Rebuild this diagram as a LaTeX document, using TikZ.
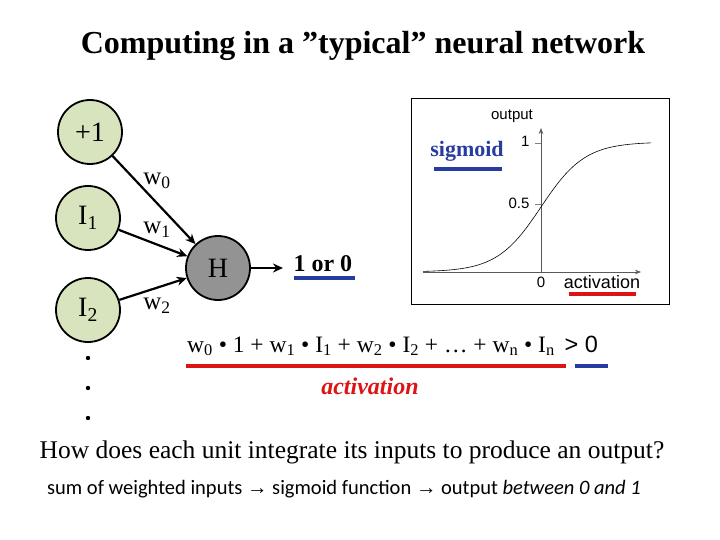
\documentclass[tikz,border=0pt]{standalone}
\usepackage{fontspec}
\setmainfont{Liberation Serif}
\newfontfamily\calfnt{Carlito}
\newfontfamily\ars{Liberation Sans}
\usetikzlibrary{arrows.meta}
\definecolor{ngreen}{RGB}{215,228,189}
\definecolor{nblue}{RGB}{40,60,160}
\definecolor{nred}{RGB}{220,20,20}
\begin{document}
\begin{tikzpicture}[x=1pt,y=-1pt,
  inp/.style={circle,draw,line width=1.8pt,fill=ngreen,minimum size=64pt,inner sep=0pt,font=\fontsize{28}{30}\selectfont},
  hid/.style={circle,draw,line width=1.8pt,fill=gray!85,minimum size=64pt,inner sep=0pt,font=\fontsize{28}{30}\selectfont},
  con/.style={-{Stealth[length=10pt,width=9pt]},line width=2.2pt},
  wl/.style={font=\fontsize{25}{27}\selectfont},
  uline/.style={line width=3.5pt}]
\useasboundingbox (0,0) rectangle (720,540);
\node[font=\bfseries\fontsize{32}{34}\selectfont] (title) at (363,46) {Computing in a ”typical” neural network};
% sigmoid graph
\draw[line width=0.8pt] (411,98) rectangle (669,304);
\coordinate (xa) at (423,272); \coordinate (xb) at (641,272);
\coordinate (ya) at (541,272); \coordinate (yb) at (541,128);
\draw[gray!70!black,line width=0.7pt,-{Stealth[length=6pt]}] (xa) -- (xb);
\draw[gray!70!black,line width=0.7pt,-{Stealth[length=6pt]}] (ya) -- (yb);
\draw[gray] (535,143) -- (541,143) (535,204) -- (541,204);
\draw[line width=0.6pt,domain=-118:110,samples=80,smooth] plot ({541+\x},{272-130/(1+exp(-\x/22))});
\node[font=\ars\fontsize{15}{16}\selectfont] (out) at (512,116) {output};
\node[font=\ars\fontsize{15}{16}\selectfont,anchor=east] (one) at (533,141) {1};
\node[font=\ars\fontsize{15}{16}\selectfont,anchor=east] (half) at (533,203) {0.5};
\node[font=\ars\fontsize{15}{16}\selectfont] (zero) at (541,282) {0};
\node[font=\ars\fontsize{18}{20}\selectfont] (act) at (602,282) {activation};
\draw[nred,uline] (569,294) -- (636,294);
\node[font=\bfseries\fontsize{22}{24}\selectfont,text=nblue] (sig) at (467,151) {sigmoid};
\draw[nblue,uline] (434,169) -- (502,169);
% network
\node[inp] (b) at (90,132) {+1};
\node[inp] (i1) at (88,218) {I\textsubscript{1}};
\node[inp] (i2) at (88,310) {I\textsubscript{2}};
\node[hid] (h) at (218,268) {H};
\coordinate (o) at (283,268);
\draw[con] (b) -- (h);
\draw[con] (i1) -- (h);
\draw[con] (i2) -- (h);
\draw[con] (h) -- (o);
\node[wl] (w0) at (157,181) {w\textsubscript{0}};
\node[wl] (w1) at (157,230) {w\textsubscript{1}};
\node[wl] (w2) at (157,306) {w\textsubscript{2}};
\node[font=\bfseries\fontsize{24}{26}\selectfont,anchor=west] (res) at (290,264) {1 or 0};
\draw[nblue,uline] (294,278) -- (355,278);
\foreach \yy/\n in {358/d1,388/d2,418/d3} \fill (88,\yy) circle (2.2pt) coordinate (\n);
% equation
\node[font=\fontsize{23.5}{25}\selectfont,anchor=west,inner sep=0pt] (eq) at (187,346) {w\textsubscript{0} \textbullet{} 1 + w\textsubscript{1} \textbullet{} I\textsubscript{1} + w\textsubscript{2} \textbullet{} I\textsubscript{2} + … + w\textsubscript{n} \textbullet{} I\textsubscript{n} {\ars\,> 0}};
\draw[nred,uline] (186,366) -- (566,366);
\draw[nblue,uline] (575,366) -- (608,366);
\node[font=\bfseries\itshape\fontsize{24}{26}\selectfont,text=nred] (actl) at (370,386) {activation};
\node[font=\fontsize{25.5}{27}\selectfont] (q) at (352,452) {How does each unit integrate its inputs to produce an output?};
\node[font=\calfnt\fontsize{20.5}{22}\selectfont] (s) at (344,489) {sum of weighted inputs {\ars→} sigmoid function {\ars→} output \textit{between 0 and 1}};
\end{tikzpicture}
\end{document}
